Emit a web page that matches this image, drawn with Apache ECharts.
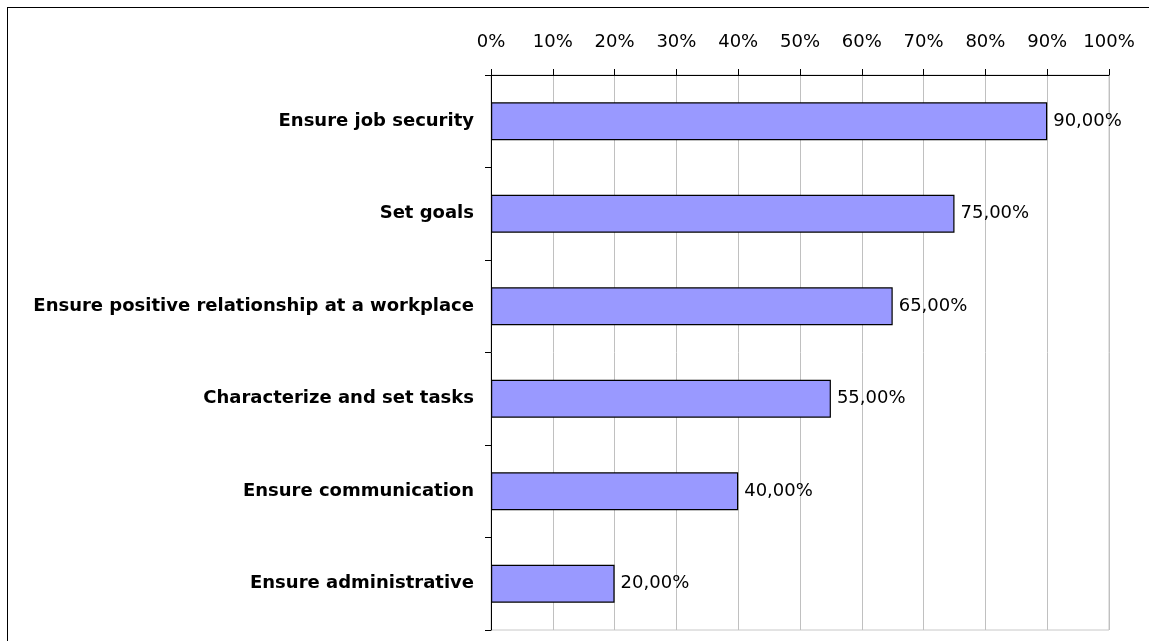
<!DOCTYPE html>
<html>
<head>
<meta charset="utf-8">
<script src="https://cdn.jsdelivr.net/npm/echarts@6/dist/echarts.min.js"></script>
<style>
html,body{margin:0;padding:0;background:#fff;}
#chart{position:absolute;left:0;top:0;width:1149px;height:641px;}
#frame{position:absolute;left:7px;top:7px;width:1142px;height:634px;border-top:1px solid #000;border-left:1px solid #000;pointer-events:none;}
</style>
</head>
<body>
<div id="chart"></div>
<div id="frame"></div>
<script>
const categories = [
  "Ensure job security",
  "Set goals",
  "Ensure positive relationship at a workplace",
  "Characterize and set tasks",
  "Ensure communication",
  "Ensure administrative"
];
const values = [90, 75, 65, 55, 40, 20];
const axisMin = 0;
const axisMax = 100;
const axisStep = 10;

const chart = echarts.init(document.getElementById('chart'));
chart.setOption({
  animation: false,
  backgroundColor: '#fff',
  grid: {
    left: 491, right: 40, top: 75, bottom: 11,
    show: true, borderColor: '#c8c8c8', borderWidth: 1, backgroundColor: 'transparent'
  },
  xAxis: {
    type: 'value',
    position: 'top',
    min: axisMin, max: axisMax, interval: axisStep,
    axisLine: { show: true, lineStyle: { color: '#000', width: 1 } },
    axisTick: { show: true, inside: false, length: 6, lineStyle: { color: '#000' } },
    axisLabel: {
      formatter: '{value}%', color: '#000', fontSize: 18,
      fontFamily: 'DejaVu Sans', margin: 24
    },
    splitLine: { show: true, lineStyle: { color: '#c0c0c0', width: 1 } }
  },
  yAxis: {
    type: 'category',
    data: categories,
    inverse: true,
    axisLine: { show: true, lineStyle: { color: '#000', width: 1 } },
    axisTick: { show: true, inside: false, length: 6, alignWithLabel: false, lineStyle: { color: '#000' } },
    axisLabel: {
      color: '#000', fontSize: 18, fontWeight: 'bold',
      fontFamily: 'DejaVu Sans', margin: 17
    },
    splitLine: { show: false }
  },
  series: [{
    type: 'bar',
    data: values,
    barCategoryGap: '59%',
    itemStyle: { color: '#9999ff', borderColor: '#000', borderWidth: 1.2 },
    label: {
      show: true, position: 'right', distance: 6,
      color: '#000', fontSize: 18, fontFamily: 'DejaVu Sans',
      formatter: p => p.value.toFixed(2).replace('.', ',') + '%'
    }
  }]
});
</script>
</body>
</html>
